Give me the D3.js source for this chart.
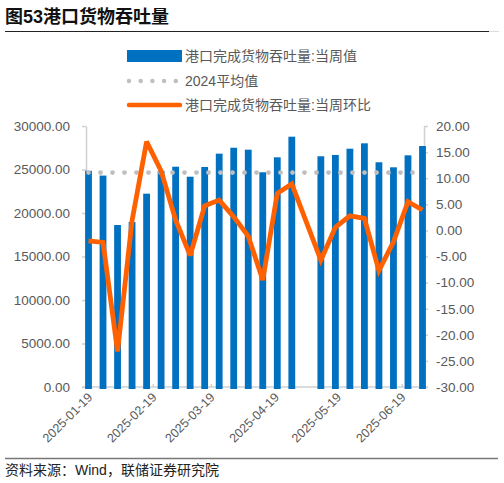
<html><head>
<meta charset="utf-8">
<script src="https://d3js.org/d3.v7.min.js"></script>
<style>
  body { margin: 0; background: #fff; }
  text { font-family: "Liberation Sans", Arial, "Noto Sans CJK SC", sans-serif; }
  .cjk { font-family: "Liberation Sans", "Noto Sans CJK SC", sans-serif; }
</style>
</head>
<body>
<svg id="plot" width="504" height="483"></svg>
<script>

// weekly points, first one 2025-01-19 (the week of 05-04 has no value)
const weeks = ["2025-01-19","2025-01-26","2025-02-02","2025-02-09","2025-02-16","2025-02-23",
               "2025-03-02","2025-03-09","2025-03-16","2025-03-23","2025-03-30","2025-04-06",
               "2025-04-13","2025-04-20","2025-04-27","2025-05-04","2025-05-11","2025-05-18",
               "2025-05-25","2025-06-01","2025-06-08","2025-06-15","2025-06-22","2025-06-29"];
const throughput = [24850, 24300, 18620, 18970, 22220, 24830, 25320, 24170, 25290, 26820, 27500, 27280,
                    24680, 26400, 28770, null, 26520, 26670, 27390, 28010, 25830, 25250, 26630, 27700];
const weekOnWeek = [-2.0, -2.3, -23.2, 1.9, 17.0, 11.4, 2.0, -4.8, 4.7, 5.8, 2.6, -1.1,
                    -9.5, 7.1, 8.9, null, -5.7, 0.6, 2.8, 2.3, -7.7, -2.2, 5.5, 3.9];
const avg2024 = 24650;
const leftTicks = [0, 5000, 10000, 15000, 20000, 25000, 30000];
const rightTicks = [-30, -25, -20, -15, -10, -5, 0, 5, 10, 15, 20];
const dateTicks = ["2025-01-19","2025-02-19","2025-03-19","2025-04-19","2025-05-19","2025-06-19"];
const seriesNames = ["港口完成货物吞吐量:当周值", "2024平均值", "港口完成货物吞吐量:当周环比"];

const svg = d3.select("svg#plot");
const parse = d3.timeParse("%Y-%m-%d");
const blue = "#0070c0", orange = "#ff6000", dotGrey = "#bfbfbf", axisGrey = "#d0d0d0", labelGrey = "#595959";

const plot = {left: 86, right: 424, top: 126, bottom: 387};

let data = weeks.map((w, i) => ({date: parse(w), value: throughput[i], wow: weekOnWeek[i]}));

let x = d3.scaleTime().domain([parse(weeks[0]), parse(weeks[weeks.length - 1])]).range([88.5, 422.5]);
let yLeft = d3.scaleLinear().domain([0, 30000]).range([plot.bottom, plot.top]);
let yRight = d3.scaleLinear().domain([-30, 20]).range([plot.bottom, plot.top]);

// title
svg.append("text").attr("x", 5).attr("y", 22.5)
   .attr("font-size", 18).attr("font-weight", "bold").attr("fill", "#111")
   .attr("class", "cjk").text("图53港口货物吞吐量");
svg.append("line").attr("x1", 5).attr("x2", 489).attr("y1", 31.5).attr("y2", 31.5)
   .attr("stroke", "#222").attr("stroke-width", 1);
svg.append("line").attr("x1", 489).attr("x2", 499).attr("y1", 31.5).attr("y2", 31.5)
   .attr("stroke", "#ddd").attr("stroke-width", 1);

// legend
let legend = svg.append("g").attr("transform", "translate(127,0)");
legend.append("rect").attr("x", 0).attr("y", 50).attr("width", 55).attr("height", 12).attr("fill", blue);
legend.append("line").attr("x1", 2).attr("x2", 55).attr("y1", 81).attr("y2", 81)
      .attr("stroke", dotGrey).attr("stroke-width", 4.5).attr("stroke-linecap", "round")
      .attr("stroke-dasharray", "0 11.7");
legend.append("line").attr("x1", 2).attr("x2", 53).attr("y1", 105).attr("y2", 105)
      .attr("stroke", orange).attr("stroke-width", 4.5).attr("stroke-linecap", "round");
[61, 85.5, 109.5].forEach((yy, i) => {
  legend.append("text").attr("x", 58).attr("y", yy).attr("font-size", 14)
        .attr("fill", labelGrey).attr("class", "cjk").text(seriesNames[i]);
});

// axes
let leftAxis = svg.append("g").attr("transform", "translate(" + plot.left + ",0)")
   .call(d3.axisLeft(yLeft).tickValues(leftTicks).tickSize(4).tickSizeOuter(0).tickPadding(12)
           .tickFormat(d => d.toFixed(2)));
let rightAxis = svg.append("g").attr("transform", "translate(" + plot.right + ",0)")
   .call(d3.axisRight(yRight).tickValues(rightTicks).tickSize(4).tickSizeOuter(0).tickPadding(8)
           .tickFormat(d => d.toFixed(2)));
let bottomAxis = svg.append("g").attr("transform", "translate(0," + plot.bottom + ")")
   .call(d3.axisBottom(x).tickValues(dateTicks.map(parse)).tickSize(-3).tickSizeOuter(0)
           .tickFormat(d3.timeFormat("%Y-%m-%d")));
[leftAxis, rightAxis, bottomAxis].forEach(a => {
  a.select(".domain").attr("stroke", axisGrey).attr("stroke-width", 1.5);
  a.selectAll(".tick line").attr("stroke", axisGrey).attr("stroke-width", 1.5);
  a.selectAll("text").attr("font-size", 13.5).attr("fill", labelGrey)
   .attr("font-family", "'Liberation Sans', Arial, sans-serif");
});
bottomAxis.select(".domain").attr("d", "M" + (plot.left - 4) + ",0H" + (plot.right + 4));
bottomAxis.selectAll(".tick text")
   .attr("font-size", 12.5).attr("text-anchor", "end")
   .attr("transform", "translate(1,8) rotate(-45)").attr("dy", "0.35em").attr("y", 0).attr("x", 0);

// bars
const barW = 6.8;
svg.append("g").selectAll("rect")
   .data(data.filter(d => d.value != null))
   .join("rect")
   .attr("x", d => x(d.date) - barW / 2)
   .attr("width", barW)
   .attr("y", d => yLeft(d.value))
   .attr("height", d => plot.bottom + 2 - yLeft(d.value))
   .attr("fill", blue);

// 2024 average, dotted
svg.append("line")
   .attr("x1", x(data[0].date)).attr("x2", x(data[data.length - 1].date))
   .attr("y1", yLeft(avg2024)).attr("y2", yLeft(avg2024))
   .attr("stroke", dotGrey).attr("stroke-width", 4.8).attr("stroke-linecap", "round")
   .attr("stroke-dasharray", "0 12");

// week-on-week line (gap week skipped, line joins across it)
let line = d3.line().x(d => x(d.date)).y(d => yRight(d.wow));
svg.append("path")
   .datum(data.filter(d => d.wow != null))
   .attr("d", line)
   .attr("fill", "none").attr("stroke", orange).attr("stroke-width", 4.8)
   .attr("stroke-linejoin", "miter").attr("stroke-miterlimit", 3);

// source
svg.append("line").attr("x1", 5).attr("x2", 498).attr("y1", 458.5).attr("y2", 458.5)
   .attr("stroke", "#777").attr("stroke-width", 1.5);
svg.append("text").attr("x", 5).attr("y", 474.5).attr("font-size", 14).attr("fill", "#222")
   .attr("class", "cjk").text("资料来源：Wind，联储证券研究院");

</script>
</body>
</html>
